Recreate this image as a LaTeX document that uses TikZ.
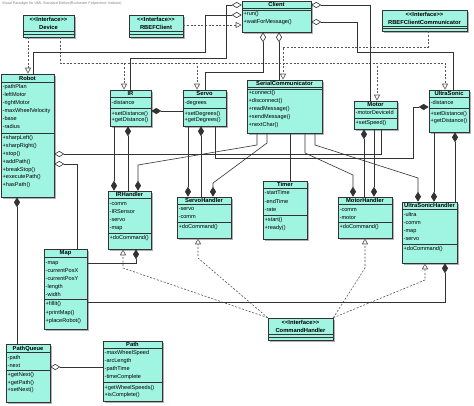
\documentclass[tikz,border=0pt]{standalone}
\usepackage{fontspec}
\setmainfont{Liberation Sans}[Ligatures=TeXOff]
\usetikzlibrary{arrows.meta,fit}
\definecolor{clsfill}{HTML}{A0F4E2}
\definecolor{lnc}{HTML}{333333}
\definecolor{dashc}{HTML}{555555}
\tikzset{
 clsbox/.style={draw=lnc, line width=0.6pt, fill=clsfill, inner sep=0pt},
 divl/.style={draw=lnc, line width=0.5pt},
 hdr/.style={font=\fontsize{5.8}{7.5}\selectfont\bfseries, inner sep=0pt, align=center, text=black},
 txt/.style={font=\fontsize{5.6}{7}\selectfont, inner sep=0pt, text height=4pt, text depth=1.2pt, anchor=west},
 assoc/.style={draw=lnc, line width=0.6pt},
 comp/.style={assoc, {Diamond[length=10pt,width=6pt]}-},
 aggr/.style={assoc, {Diamond[length=10pt,width=6pt,fill=white]}-},
 real/.style={draw=dashc, line width=0.6pt, dash pattern=on 2pt off 1.6pt, -{Triangle[length=6pt,width=6pt,fill=white]}},
 shadowc/.style={fill=black!30},
}
\newcommand\cls[9]{%
 \fill[shadowc] (#2+1.5,#3+1.5) rectangle (#4+1.5,#5+1.5);
 \node[clsbox, fit={(#2,#3) (#4,#5)}] (#1) {};
 \node[hdr] (#1-title) at ({(#2+#4)/2},#6) {#7};
 \draw[divl] (#2,#8) -- (#4,#8);
 \draw[divl] (#2,#9) -- (#4,#9);
}
\newcommand\clsrows[5]{%
 \foreach \rowt [count=\rowi from 0] in {#5} {\node[txt] (#1-\rowi) at (#2+1.5,#3+\rowi*#4) {\rowt};}
}
\begin{document}
\begin{tikzpicture}[x=1pt,y=-1pt]
\fill[white] (0,0) rectangle (474,405);
\useasboundingbox (0,0) rectangle (474,405);
\node[font=\fontsize{3.6}{4}\selectfont, text=gray, anchor=west, inner sep=0pt] (vp) at (2,4) {Visual Paradigm for UML Standard Edition(Rochester Polytechnic Institute)};

% ---- classes
\cls{Device}{23}{15}{74}{37}{23.5}{<<Interface>>\\Device}{31}{34}
\cls{RBEFClient}{129}{15}{183}{37}{23.5}{<<Interface>>\\RBEFClient}{31}{34}
\cls{RBEFClientCommunicator}{382}{10}{467}{31}{18.5}{<<Interface>>\\RBEFClientCommunicator}{26}{28.5}
\cls{CommandHandler}{268}{318}{333}{340}{326.5}{<<Interface>>\\CommandHandler}{334.5}{337}

\cls{Client}{242}{1}{311}{32}{4.5}{Client}{8}{10}
\clsrows{Client-m}{242}{14}{8}{+run(),+waitForMessage()}

\cls{Robot}{1}{74}{54}{197}{78}{Robot}{82.5}{133}
\clsrows{Robot-a}{1}{87.5}{8}{-pathPlan,-leftMotor,-rightMotor,-maxWheelVelocity,-base,-radius}
\clsrows{Robot-m}{1}{138}{7.9}{+sharpLeft(),+sharpRight(),+stop(),+addPath(),+breakStop(),+executePath(),+hasPath()}

\cls{IR}{110}{90}{151}{126}{93.5}{IR}{97}{108}
\clsrows{IR-a}{110}{103}{7}{-distance}
\clsrows{IR-m}{110}{114}{6.5}{+setDistance(),+getDistance()}

\cls{Servo}{183}{90}{226}{126}{93.5}{Servo}{97}{108}
\clsrows{Servo-a}{183}{103}{7}{-degrees}
\clsrows{Servo-m}{183}{114}{6.5}{+setDegrees(),+getDegrees()}

\cls{SerialCommunicator}{247}{80}{322}{133}{83.5}{SerialCommunicator}{87.5}{89.5}
\clsrows{SerialCommunicator-m}{247}{93}{8.1}{+connect(),+disconnect(),+readMessage(),+sendMessage(),+nextChar()}

\cls{Motor}{354}{101}{397}{129}{104.5}{Motor}{108}{118}
\clsrows{Motor-a}{354}{113}{7}{-motorDeviceId}
\clsrows{Motor-m}{354}{123.5}{7}{+setSpeed()}

\cls{UltraSonic}{429}{90}{469}{132}{93.5}{UltraSonic}{97}{108}
\clsrows{UltraSonic-a}{429}{103}{7}{-distance}
\clsrows{UltraSonic-m}{429}{114}{7}{+setDistance(),+getDistance()}

\cls{IRHandler}{108}{191}{151}{249}{194.5}{IRHandler}{198}{233}
\clsrows{IRHandler-a}{108}{204}{8}{-comm,-IRSensor,-servo,-map}
\clsrows{IRHandler-m}{108}{238.5}{8}{+doCommand()}

\cls{ServoHandler}{177}{197}{231}{238}{200.5}{ServoHandler}{204}{222}
\clsrows{ServoHandler-a}{177}{209.5}{8}{-servo,-comm}
\clsrows{ServoHandler-m}{177}{227.5}{8}{+doCommand()}

\cls{Timer}{263}{181}{307}{239}{184.5}{Timer}{188}{215}
\clsrows{Timer-a}{263}{193.5}{8.3}{-startTime,-endTime,-rate}
\clsrows{Timer-m}{263}{220.5}{8}{+start(),+ready()}

\cls{MotorHandler}{338}{197}{392}{238}{200.5}{MotorHandler}{204}{222}
\clsrows{MotorHandler-a}{338}{210}{8}{-comm,-motor}
\clsrows{MotorHandler-m}{338}{227.5}{8}{+doCommand()}

\cls{UltraSonicHandler}{402}{202}{457}{263}{205.5}{UltraSonicHandler}{209}{244}
\clsrows{UltraSonicHandler-a}{402}{215}{8}{-ultra,-comm,-map,-servo}
\clsrows{UltraSonicHandler-m}{402}{249.5}{8}{+doCommand()}

\cls{Map}{44}{249}{87}{329}{253}{Map}{257}{299}
\clsrows{Map-a}{44}{263}{7.9}{-map,-currentPosX,-currentPosY,-length,-width}
\clsrows{Map-m}{44}{304.5}{8.2}{+fillIt(),+printMap(),+placeRobot()}

\cls{PathQueue}{6}{344}{50}{402}{348.5}{PathQueue}{352}{370}
\clsrows{PathQueue-a}{6}{358}{7.8}{-path,-next}
\clsrows{PathQueue-m}{6}{375.5}{7.5}{+getNext(),+getPath(),+setNext()}

\cls{Path}{103}{341}{162}{401}{344.5}{Path}{348}{382}
\clsrows{Path-a}{103}{353.5}{7.9}{-maxWheelSpeed,-arcLength,-pathTime,-timeComplete}
\clsrows{Path-m}{103}{388}{7}{+getWheelSpeeds(),+isComplete()}

% ---- realizations
\draw[real] (Device.south -| 28,0) -- (Robot.north -| 28,0);
\foreach \tgt/\xx in {IR/124, Servo/197, Motor/377, UltraSonic/445}
  \draw[real] (Device.south -| 60,0) |- (\xx,63) -- (\tgt.north -| \xx,0);
\draw[real] (RBEFClient.east |- 0,25) -- (Client.west |- 0,25);
\draw[real] (RBEFClientCommunicator.south -| 428,0) |- (283,47) -- (SerialCommunicator.north -| 283,0);
\draw[real] (CommandHandler.north west) -- (123,268) -- (IRHandler.south -| 123,0);
\draw[real] (CommandHandler.north west) -- (198,258) -- (ServoHandler.south -| 198,0);
\draw[real] (CommandHandler.north east) -- (365,268) -- (MotorHandler.south -| 365,0);
\draw[real] (CommandHandler.north east) -- (425,280) -- (UltraSonicHandler.south -| 425,0);

% ---- aggregations from Client
\draw[aggr] (Client.west |- 0,15) -| (205,52) -| (Robot.north -| 33,0);
\draw[aggr] (Client.west |- 0,5) -| (226,58) -| (IR.north -| 130,0);
\draw[aggr] (Client.east |- 0,5) -| (Motor.north -| 370,0);
\draw[aggr] (Client.east |- 0,22) -| (357,52) -| (UltraSonic.north -| 453,0);
\draw[aggr] (Client.south -| 263,0) |- (205,72) -- (Servo.north -| 205,0);
\draw[aggr] (Client.south -| 279,0) -- (SerialCommunicator.north -| 279,0);

% ---- sensors
\draw[comp] (IR.east |- 0,111) -- (Servo.west |- 0,111);
\draw[comp] (UltraSonic.west |- 0,107) -| (413,158) -| (Servo.south -| 215,0);
\draw[aggr] (Robot.east |- 0,154) -| (Motor.south -| 381,0);
\draw[aggr] (Robot.east |- 0,164) -| (Map.north -| 77,0);
\draw[comp] (Robot.south -| 17,0) -- (PathQueue.north -| 17,0);
\draw[aggr] (PathQueue.east |- 0,367) -- (Path.west |- 0,367);

% ---- handlers
\draw[comp] (IR.south -| 128,0) -- (IRHandler.north -| 128,0);
\draw[comp] (IRHandler.north -| 114,0) -- (IR.south -| 114,0);
\draw[comp] (IRHandler.north -| 138,0) -- (138,165) -- (257,145) -- (SerialCommunicator.south -| 257,0);
\draw[comp] (Servo.south -| 201,0) -- (ServoHandler.north -| 201,0);
\draw[comp] (ServoHandler.north -| 188,0) -- (Servo.south -| 188,0);
\draw[comp] (ServoHandler.north -| 213,0) -- (213,183) -- (267,143) -- (SerialCommunicator.south -| 267,0);
\draw[assoc] (SerialCommunicator.south -| 290,0) -- (Timer.north -| 290,0);
\draw[comp] (MotorHandler.north -| 353,0) -- (353,175) -- (305,153) -- (SerialCommunicator.south -| 305,0);
\draw[comp] (Motor.south -| 364,0) -- (MotorHandler.north -| 364,0);
\draw[comp] (MotorHandler.north -| 374,0) -- (Motor.south -| 374,0);
\draw[comp] (UltraSonicHandler.north -| 418,0) -- (418,178) -- (315,145) -- (SerialCommunicator.south -| 315,0);
\draw[comp] (UltraSonicHandler.north -| 434,0) -- (UltraSonic.south -| 434,0);
\draw[comp] (UltraSonic.south -| 455,0) -- (UltraSonicHandler.north -| 455,0);
\draw[comp] (IRHandler.south -| 136,0) |- (Map.east |- 0,263);
\draw[comp] (UltraSonicHandler.south -| 445,0) |- (Map.east |- 0,302);
\end{tikzpicture}
\end{document}
